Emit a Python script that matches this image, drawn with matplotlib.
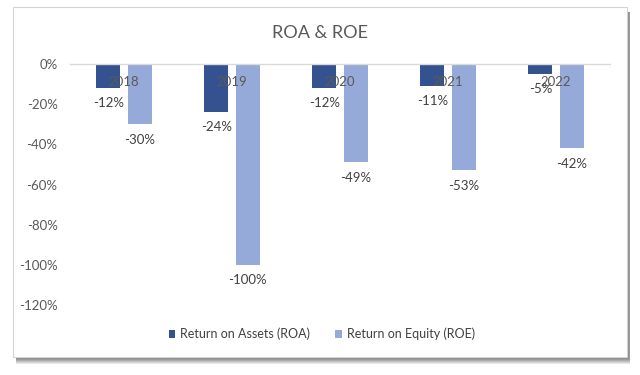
import matplotlib
matplotlib.use("Agg")
import matplotlib.pyplot as plt
from matplotlib.patches import Rectangle
from matplotlib.ticker import FuncFormatter
import numpy as np

plt.rcParams['font.family'] = ['Lato', 'DejaVu Sans']

years = ['2018', '2019', '2020', '2021', '2022']
roa = [-12, -24, -12, -11, -5]
roe = [-30, -100, -49, -53, -42]
yticks = [0, -20, -40, -60, -80, -100, -120]

c_roa = '#355290'
c_roe = '#95AAD9'
grey = '#595959'

fig = plt.figure(figsize=(6.4, 3.75), dpi=100)
W, H = 640, 375

def fx(px):
    return px / W

def fy(py):
    return 1 - py / H

def rect(x0, y0, x1, y1, **kw):
    # pixel coordinates, y measured from top
    fig.patches.append(Rectangle((fx(x0), fy(y1)), fx(x1) - fx(x0), fy(y0) - fy(y1),
                                 transform=fig.transFigure, **kw))

# drop shadow
for k in range(1, 8):
    rect(16, 12, 627 + min(k, 3), 357 + k, facecolor='#000000', alpha=0.09,
         edgecolor='none', zorder=-3)
# chart box
rect(13, 7, 627, 357, facecolor='white', edgecolor='#D4D4D4', linewidth=0.8, zorder=-2)

ax = fig.add_axes([fx(70), fy(305), fx(610) - fx(70), fy(64) - fy(305)])
ax.set_facecolor('none')

x = np.arange(len(years))
w = 0.225
off = 0.145
b1 = ax.bar(x - off, roa, w, color=c_roa, label='Return on Assets (ROA)', zorder=1)
b2 = ax.bar(x + off, roe, w, color=c_roe, label='Return on Equity (ROE)', zorder=1)

for bars, vals in ((b1, roa), (b2, roe)):
    for b, v in zip(bars, vals):
        ax.annotate(f'{v}%', (b.get_x() + b.get_width() / 2, v), xytext=(0, -11),
                    textcoords='offset points', ha='center', va='center',
                    fontsize=9.5, color='#404040')

ax.set_xlim(-0.5, len(years) - 0.5)
ax.set_ylim(-120, 0)
ax.set_yticks(yticks)
ax.yaxis.set_major_formatter(FuncFormatter(lambda v, p: f'{int(v)}%'))
ax.set_xticks(x)
ax.set_xticklabels(years)
ax.xaxis.tick_top()
ax.tick_params(axis='x', length=0, pad=-17.5, labelsize=9.5, labelcolor=grey)
ax.tick_params(axis='y', length=0, pad=9, labelsize=9.5, labelcolor=grey)
for lab in ax.get_xticklabels():
    lab.set_verticalalignment('bottom')
for s in ['left', 'right', 'bottom']:
    ax.spines[s].set_visible(False)
ax.spines['top'].set_color('#D9D9D9')
ax.spines['top'].set_linewidth(1)

fig.text(fx(320), fy(33), 'ROA & ROE', ha='center', va='center', fontsize=13, color=grey)

fig.legend(handles=[b1, b2], loc='center', bbox_to_anchor=(fx(322), fy(334)), ncol=2,
           frameon=False, fontsize=9, handlelength=0.55, handleheight=0.55,
           columnspacing=2.0, handletextpad=0.4, labelcolor='#404040')

fig.savefig('out.png', dpi=100)
